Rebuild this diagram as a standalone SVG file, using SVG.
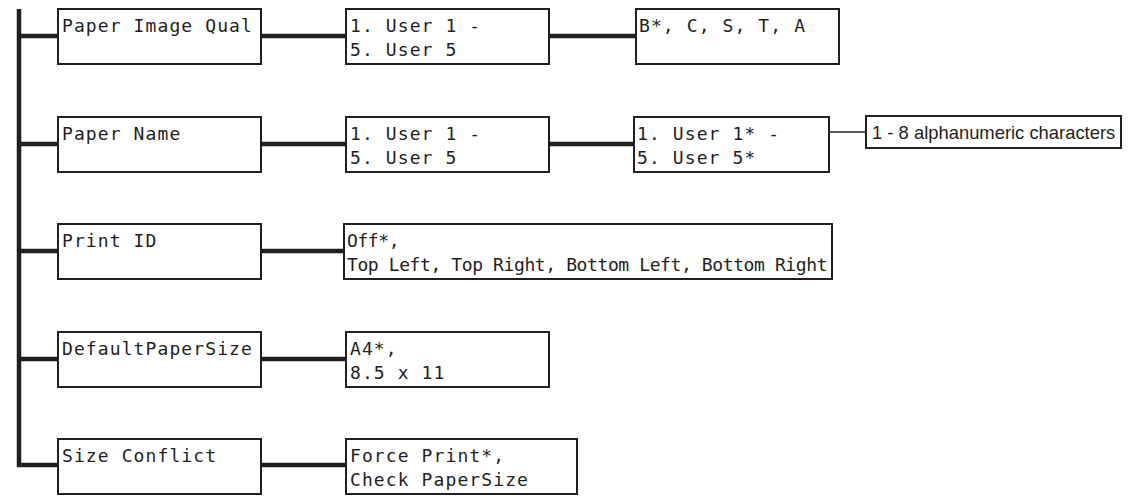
<svg xmlns="http://www.w3.org/2000/svg" width="1144" height="498" viewBox="0 0 1144 498">
<style>
.box{fill:#fff;stroke:#231f20;stroke-width:2}
.t{font-family:"DejaVu Sans Mono","Liberation Mono",monospace;font-size:18px;letter-spacing:1.1px;fill:#231f20}
.tc{letter-spacing:-0.4px}
.thick{fill:none;stroke:#231f20;stroke-width:4.5}
.thin{fill:none;stroke:#231f20;stroke-width:1.3}
.lbl{font-family:"Liberation Sans",Arial,sans-serif;font-size:18.4px;fill:#231f20}
</style>
<rect width="1144" height="498" fill="#fff"/>
<g id="connectors">
<path class="thick" d="M19,9 V465 H58"/>
<path class="thick" d="M19,36 H58 M261,36 H346 M549,36 H636"/>
<path class="thick" d="M19,144 H58 M261,144 H346 M549,144 H634"/>
<path class="thick" d="M19,251 H58 M261,251 H344"/>
<path class="thick" d="M19,359 H58 M261,359 H346"/>
<path class="thick" d="M261,465 H346"/>
<path class="thin" d="M783,132 H866"/>
</g>
<g id="n-paper-image-qual"><rect class="box" x="58" y="9" width="203" height="55"/><text class="t" x="62" y="32">Paper Image Qual</text></g>
<g id="n-piq-users"><rect class="box" x="346" y="9" width="203" height="55"/><text class="t" x="350" y="32">1. User 1 -</text><text class="t" x="350" y="56">5. User 5</text></g>
<g id="n-piq-values"><rect class="box" x="636" y="9" width="203" height="55"/><text class="t" x="639" y="32">B*, C, S, T, A</text></g>
<g id="n-paper-name"><rect class="box" x="58" y="117" width="203" height="55"/><text class="t" x="62" y="140">Paper Name</text></g>
<g id="n-pn-users"><rect class="box" x="346" y="117" width="203" height="55"/><text class="t" x="350" y="140">1. User 1 -</text><text class="t" x="350" y="164">5. User 5</text></g>
<g id="n-pn-values"><rect class="box" x="634" y="117" width="195" height="55"/><text class="t" x="637" y="140">1. User 1* -</text><text class="t" x="637" y="164">5. User 5*</text></g>
<g id="n-pn-label"><rect class="box" x="866" y="116" width="255" height="32" stroke-width="1.5"/><text class="lbl" x="872" y="139">1 - 8 alphanumeric characters</text></g>
<g id="n-print-id"><rect class="box" x="58" y="224" width="203" height="55"/><text class="t" x="62" y="247">Print ID</text></g>
<g id="n-print-id-values"><rect class="box" x="344" y="224" width="488" height="55"/><text class="t tc" x="347" y="247">Off*,</text><text class="t tc" x="347" y="271">Top Left, Top Right, Bottom Left, Bottom Right</text></g>
<g id="n-default-paper-size"><rect class="box" x="58" y="332" width="203" height="55"/><text class="t" x="62" y="355">DefaultPaperSize</text></g>
<g id="n-dps-values"><rect class="box" x="346" y="332" width="203" height="55"/><text class="t" x="350" y="355">A4*,</text><text class="t" x="350" y="379">8.5 x 11</text></g>
<g id="n-size-conflict"><rect class="box" x="58" y="439" width="203" height="55"/><text class="t" x="62" y="462">Size Conflict</text></g>
<g id="n-sc-values"><rect class="box" x="346" y="439" width="231" height="55"/><text class="t" x="350" y="462">Force Print*,</text><text class="t" x="350" y="486">Check PaperSize</text></g>
</svg>
